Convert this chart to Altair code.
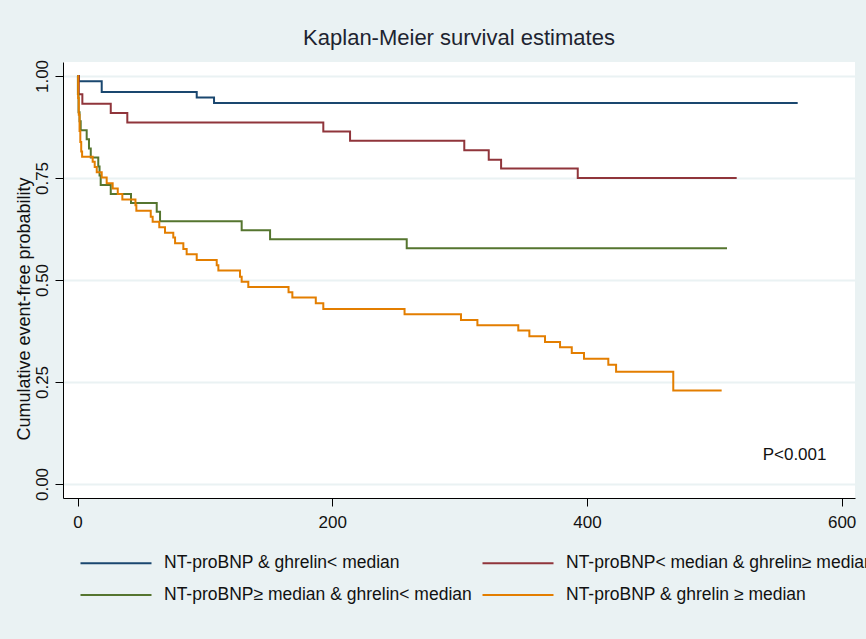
import altair as alt
import pandas as pd

# ---- data ----
series_names = [
    "NT-proBNP & ghrelin< median",
    "NT-proBNP< median & ghrelin≥ median",
    "NT-proBNP≥ median & ghrelin< median",
    "NT-proBNP & ghrelin ≥ median",
]
series_colors = ["#1A476F", "#90353B", "#55752F", "#E37E00"]

blue_time = [0, 1.0, 19.0, 93.6, 107.2, 565.5]
blue_surv = [1.0, 0.987, 0.961, 0.947, 0.934, 0.934]

red_time = [0, 1.0, 3.8, 26.1, 39.1, 193.0, 214.0, 303.7, 322.9, 332.6, 392.8, 517.6]
red_surv = [1.0, 0.955, 0.932, 0.909, 0.886, 0.864, 0.841, 0.818, 0.795, 0.773, 0.750, 0.750]

green_time = [0, 0.3, 0.8, 1.6, 2.5, 7.2, 9.0, 10.4, 16.3, 17.3, 18.2, 26.1, 42.0, 62.2,
              64.8, 128.9, 151.2, 258.5, 510.0]
green_surv = [1.0, 0.956, 0.911, 0.889, 0.867, 0.845, 0.822, 0.800, 0.778, 0.756, 0.733,
              0.711, 0.689, 0.667, 0.644, 0.622, 0.600, 0.578, 0.578]

orange_time = [0, 0.5, 1.0, 1.6, 2.2, 2.9, 3.6, 11.9, 13.5, 15.1, 19.0, 22.9, 27.6, 31.6,
               35.2, 45.5, 46.2, 57.5, 59.0, 64.2, 68.7, 75.2, 76.6, 83.1, 85.7, 93.6,
               109.3, 110.6, 127.6, 128.9, 134.1, 165.7, 168.7, 187.1, 193.0, 256.8,
               301.1, 314.0, 346.1, 354.8, 367.1, 378.9, 388.1, 397.7, 416.8, 422.9,
               467.8, 505.8]
orange_surv = [1.0, 0.946, 0.905, 0.865, 0.838, 0.815, 0.802, 0.790, 0.777, 0.764, 0.751,
               0.737, 0.724, 0.711, 0.697, 0.683, 0.670, 0.655, 0.643, 0.629, 0.616, 0.604,
               0.590, 0.576, 0.563, 0.549, 0.536, 0.523, 0.508, 0.496, 0.483, 0.470, 0.457,
               0.443, 0.429, 0.416, 0.402, 0.389, 0.376, 0.362, 0.348, 0.335, 0.321, 0.307,
               0.292, 0.275, 0.229, 0.229]

x_ticks = [0, 200, 400, 600]
y_ticks = [0.0, 0.25, 0.5, 0.75, 1.0]

annot_text = ["P<0.001"]
annot_x = [538]
annot_y = [0.071]

# ---- build tables ----
all_times = [blue_time, red_time, green_time, orange_time]
all_survs = [blue_surv, red_surv, green_surv, orange_surv]
rows = []
for name, ts, ss in zip(series_names, all_times, all_survs):
    for i, (t, s) in enumerate(zip(ts, ss)):
        rows.append({"series": name, "time": t, "surv": s, "idx": i})
df = pd.DataFrame(rows)
annot_df = pd.DataFrame({"label": annot_text, "x": annot_x, "y": annot_y})

FONT = "Liberation Sans"
TXT = "#111111"

x_scale = alt.Scale(domain=[-11.4, 610.5], nice=False, zero=False)
y_scale = alt.Scale(domain=[-0.0343, 1.0343], nice=False, zero=False)

x_axis = alt.Axis(values=x_ticks, format="d", title=None, grid=False,
                  labelFont=FONT, labelFontSize=17, labelColor=TXT,
                  labelPadding=8, labelFlush=False, labelOverlap=False,
                  labelAlign="center", labelBaseline="top",
                  tickSize=8, tickColor="#000000", tickWidth=1,
                  domainColor="#000000", domainWidth=1)
y_axis = alt.Axis(values=y_ticks, format=".2f",
                  title="Cumulative event-free probability",
                  labelFont=FONT, labelFontSize=17, labelColor=TXT,
                  labelAngle=270, labelAlign="center", labelBaseline="alphabetic",
                  labelPadding=7.5, labelFlush=False, labelOverlap=False,
                  tickSize=8, tickColor="#000000", tickWidth=1,
                  domainColor="#000000", domainWidth=1,
                  grid=True, gridColor="#EAF2F3", gridWidth=2,
                  titleFont=FONT, titleFontSize=18, titleFontWeight="normal",
                  titleColor=TXT, titleAngle=270, titleX=-34, titleY=246.5,
                  titleAlign="center", titleBaseline="alphabetic")

color_scale = alt.Scale(domain=series_names, range=series_colors)
legend = alt.Legend(title=None, orient="none", legendX=42, legendY=490,
                    direction="horizontal", columns=2, columnPadding=6, rowPadding=12,
                    symbolType="M-3.55,0H3.55", symbolSize=400,
                    symbolStrokeWidth=2, labelOffset=37,
                    labelFont=FONT, labelFontSize=17.5, labelColor=TXT,
                    labelLimit=1000, padding=0)

layers = []
for name in series_names:
    layers.append(
        alt.Chart(df).transform_filter(alt.datum.series == name)
        .mark_line(interpolate="step-after", strokeWidth=2)
        .encode(
            x=alt.X("time:Q", scale=x_scale, axis=x_axis),
            y=alt.Y("surv:Q", scale=y_scale, axis=y_axis),
            color=alt.Color("series:N", scale=color_scale, legend=legend),
            order=alt.Order("idx:Q"),
        )
    )

annot = alt.Chart(annot_df).mark_text(
    align="left", baseline="middle", font=FONT, fontSize=17, color=TXT
).encode(
    x=alt.X("x:Q", scale=x_scale),
    y=alt.Y("y:Q", scale=y_scale),
    text="label:N",
)

chart = alt.layer(*layers, annot).properties(
    width=792,
    height=436,
    title=alt.TitleParams("Kaplan-Meier survival estimates", font=FONT, fontSize=22,
                          fontWeight="normal", color="#1E2430", anchor="middle",
                          offset=9),
    autosize=alt.AutoSizeParams(type="none"),
    padding={"left": 63, "top": 62, "right": 11, "bottom": 141},
    background="#EAF2F3",
).configure_view(fill="white", strokeWidth=0)

chart.save("out.html", embed_options={"renderer": "svg", "actions": False})
